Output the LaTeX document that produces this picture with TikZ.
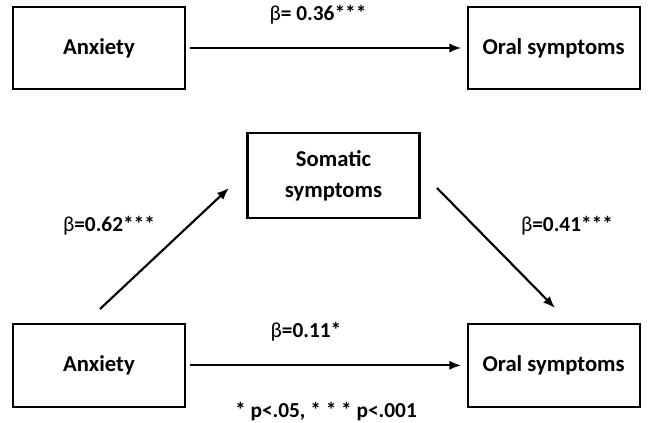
\documentclass[tikz,border=0pt]{standalone}
\usepackage{fontspec}
\setmainfont{Carlito}
\usetikzlibrary{positioning,arrows.meta}

\begin{document}
\begin{tikzpicture}[-{Latex[length = 9pt, width = 7pt]}, x = 0.75pt, y = -0.75pt,
                    node distance = 238pt and 341pt, on grid,
                    line width = 1.6pt,
                    box/.style = {rectangle,
                                  draw,
                                  black,
                                  align = center,
                                  font = \fontsize{17}{23}\selectfont\bfseries,
                                  minimum width = 129pt,
                                  minimum height = 62pt},
                    coef/.style = {font = \fontsize{16}{19}\selectfont\bfseries}]

\useasboundingbox (0,0) rectangle (654,423);

\node[box] (A1) at (99,48) {Anxiety};
\node[box] (O1) [right = of A1] {Oral symptoms};
\node[box] (A2) [below = of A1] {Anxiety};
\node[box] (O2) [right = of A2] {Oral symptoms};
\node[box] (S) at (333.5,175.5) [minimum height = 64pt] {Somatic\\symptoms};

\coordinate (a2top) at (100,309);
\coordinate (sleft) at (229,188);
\coordinate (sright) at (437,188);
\coordinate (o2top) at (555,308);

\path (A1) edge [shorten < = 3pt, shorten > = 4pt] (O1);
\path (A2) edge [shorten < = 3pt, shorten > = 4pt] (O2);
\path (a2top) edge (sleft);
\path (sright) edge (o2top);

\node[coef] (b1) at (318,15) {{\mdseries β}= 0.36***};
\node[coef] (b2) at (109,226) {{\mdseries β}=0.62***};
\node[coef] (b3) at (567,226) {{\mdseries β}=0.41***};
\node[coef] (b4) at (306,332) {{\mdseries β}=0.11*};
\node[coef] (note) at (326,412) {* p<.05, * * * p<.001};

\end{tikzpicture}
\end{document}
